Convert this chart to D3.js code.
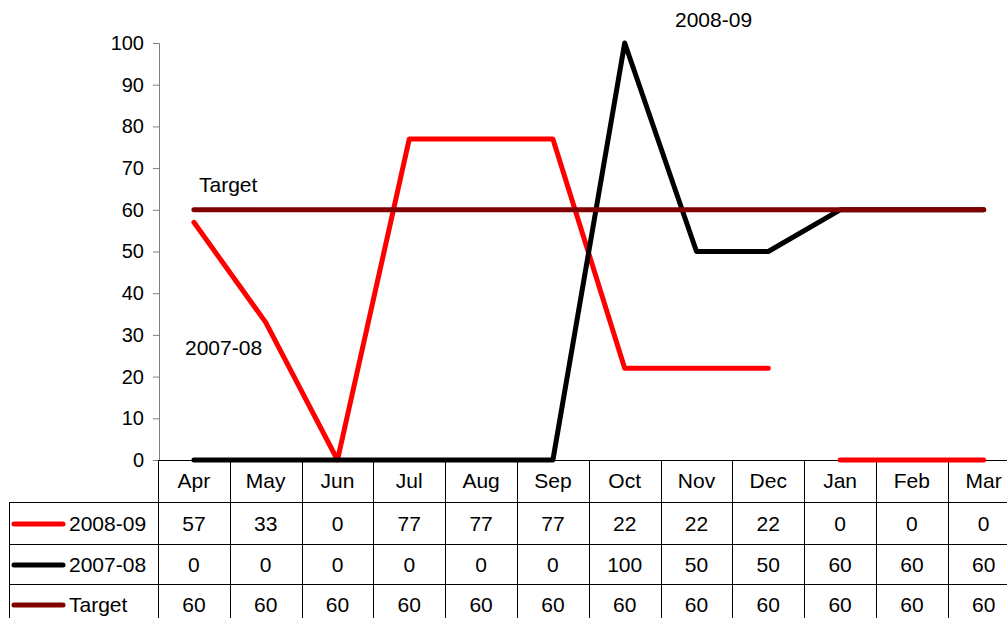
<!DOCTYPE html>
<html lang="en">
<head>
<meta charset="UTF-8">
<title>2007-08 vs 2008-09</title>
<style>
    body{ margin:0; background:white; }
    svg text{ font-family:"Liberation Sans", Arial, sans-serif; fill:#000; }
</style>
</head>
<body>
<script src="https://d3js.org/d3.v7.min.js"></script>
<script>

var months = ["Apr","May","Jun","Jul","Aug","Sep","Oct","Nov","Dec","Jan","Feb","Mar"];
var fy0809 = [57,33,0,77,77,77,22,22,22,0,0,0];
var fy0708 = [0,0,0,0,0,0,100,50,50,60,60,60];
var target = [60,60,60,60,60,60,60,60,60,60,60,60];
var yTicks = [0,10,20,30,40,50,60,70,80,90,100];
// the 2008-09 line is broken after Dec (index 8)
var breakAfter = 8;

var width = 1007, height = 618;

var series = [
    {name:"2008-09", values:fy0809, color:"#ff0000"},
    {name:"2007-08", values:fy0708, color:"#000000"},
    {name:"Target",  values:target, color:"#800000"}
];

var svg = d3.select("body").append("svg")
        .attr("width", width)
        .attr("height", height);

var x = d3.scaleBand()
        .domain(months)
        .range([158, 158 + 12*71.8]);

var y = d3.scaleLinear()
        .domain([0, 100])
        .range([460, 43]);

var cx = function(m){ return x(m) + x.bandwidth()/2; };

// y axis
var yAxis = svg.append("g")
        .attr("transform","translate(159,0)")
        .call(d3.axisLeft(y).tickValues(yTicks).tickSize(6).tickPadding(9));
yAxis.select(".domain").attr("stroke","#808080");
yAxis.selectAll(".tick line").attr("stroke","#808080");
yAxis.selectAll("text").style("font-size","20px")
        .style("font-family","'Liberation Sans', Arial, sans-serif");

// table
var rowY = [460, 502, 544, 584, 626];
var baseY = [531, 572, 612];
var tbl = svg.append("g").attr("stroke","#000").attr("stroke-width",1);

tbl.append("line").attr("x1",158).attr("x2",width).attr("y1",460.5).attr("y2",460.5);
[1,2,3].forEach(function(i){
    tbl.append("line").attr("x1",9).attr("x2",width)
            .attr("y1",rowY[i]+0.5).attr("y2",rowY[i]+0.5);
});
tbl.append("line").attr("x1",9.5).attr("x2",9.5).attr("y1",rowY[1]).attr("y2",height);
months.forEach(function(m){
    tbl.append("line").attr("x1",Math.round(x(m))+0.5).attr("x2",Math.round(x(m))+0.5)
            .attr("y1",460).attr("y2",height);
});

svg.selectAll(".mlab").data(months).enter().append("text")
        .attr("class","mlab")
        .attr("x",function(d){ return cx(d); })
        .attr("y",488)
        .attr("text-anchor","middle")
        .style("font-size","21px")
        .text(function(d){ return d; });

series.forEach(function(s,i){
    var ty = baseY[i];
    svg.append("line")
            .attr("x1",14).attr("x2",63)
            .attr("y1",ty-7).attr("y2",ty-7)
            .attr("stroke",s.color).attr("stroke-width",5)
            .attr("stroke-linecap","round");
    svg.append("text").attr("x",69).attr("y",ty)
            .style("font-size","21px").text(s.name);
    svg.selectAll(".v"+i).data(s.values).enter().append("text")
            .attr("class","v"+i)
            .attr("x",function(d,j){ return cx(months[j]); })
            .attr("y",ty)
            .attr("text-anchor","middle")
            .style("font-size","21px")
            .text(function(d){ return d; });
});

// lines
var line = d3.line()
        .defined(function(d){ return d.ok; })
        .x(function(d){ return cx(d.m); })
        .y(function(d){ return y(d.v); });

function pts(s, gap){
    var out = [];
    s.values.forEach(function(v,j){
        out.push({m:months[j], v:v, ok:true});
        if (gap && j === breakAfter) out.push({m:months[j], v:v, ok:false});
    });
    return out;
}

series.forEach(function(s,i){
    svg.append("path")
            .datum(pts(s, i === 0))
            .attr("d", line)
            .attr("fill","none")
            .attr("stroke", s.color)
            .attr("stroke-width",5)
            .attr("stroke-linejoin","round")
            .attr("stroke-linecap","round");
});

// series labels
svg.append("text").attr("x",675).attr("y",27).style("font-size","21px").text("2008-09");
svg.append("text").attr("x",199).attr("y",192).style("font-size","21px").text("Target");
svg.append("text").attr("x",185).attr("y",355).style("font-size","21px").text("2007-08");

</script>
</body>
</html>
